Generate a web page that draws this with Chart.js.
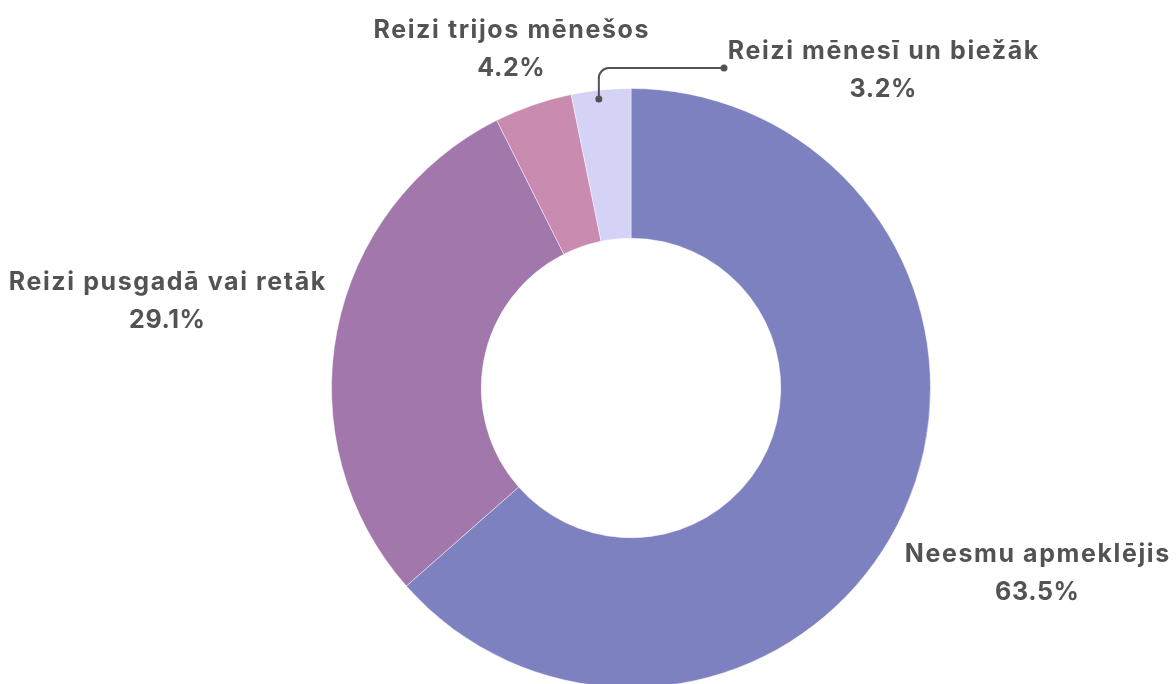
<!DOCTYPE html>
<html lang="lv">
<head>
<meta charset="utf-8">
<script src="https://cdn.jsdelivr.net/npm/chart.js@4.4.1/dist/chart.umd.min.js"></script>
<style>
    html, body { margin: 0; padding: 0; background: #ffffff; overflow: hidden; }
    #wrap { width: 1176px; height: 700px; }
</style>
</head>
<body>
<div id="wrap"><canvas id="visits-chart" width="1176" height="700"></canvas></div>
<script>
// --- Data ---
const categories = ['Neesmu apmeklējis', 'Reizi pusgadā vai retāk', 'Reizi trijos mēnešos', 'Reizi mēnesī un biežāk'];
const shares = [63.5, 29.1, 4.2, 3.2];
const sliceColors = ['#7e81bf', '#a277ab', '#c98bb0', '#d4d2f5'];

// label placement (text centre x, first baseline y)
const labelLayout = [
    { x: 1037, y: 562 },
    { x: 167, y: 290 },
    { x: 511, y: 38 },
    { x: 883, y: 59, leader: { bendY: 68, endX: 724 } }
];

const textColor = '#535353';
const labelFont = 'bold 25px Inter, "Open Sans", sans-serif';

const labelsPlugin = {
    id: 'sliceLabels',
    afterDatasetsDraw(chart) {
        const { ctx } = chart;
        const meta = chart.getDatasetMeta(0);
        ctx.save();
        ctx.fillStyle = textColor;
        ctx.strokeStyle = textColor;
        ctx.font = labelFont;
        ctx.textAlign = 'center';
        ctx.textBaseline = 'alphabetic';

        meta.data.forEach((arc, i) => {
            const pos = labelLayout[i];
            ctx.letterSpacing = '1.6px';
            ctx.fillText(categories[i], pos.x + 0.8, pos.y);
            ctx.letterSpacing = '0.6px';
            ctx.fillText(shares[i].toFixed(1) + '%', pos.x + 0.3, pos.y + 38);

            if (pos.leader) {
                // leader line from inside the slice up to the label
                const mid = (arc.startAngle + arc.endAngle) / 2;
                const r = arc.outerRadius - 9;
                const sx = arc.x + Math.cos(mid) * r - 3;
                const sy = arc.y + Math.sin(mid) * r;
                const by = pos.leader.bendY;
                const ex = pos.leader.endX;
                const rad = 10;
                ctx.lineWidth = 2;
                ctx.beginPath();
                ctx.moveTo(sx, sy);
                ctx.lineTo(sx, by + rad);
                ctx.arcTo(sx, by, sx + rad, by, rad);
                ctx.lineTo(ex, by);
                ctx.stroke();
                ctx.beginPath();
                ctx.arc(sx, sy, 3.5, 0, Math.PI * 2);
                ctx.arc(ex, by, 3.5, 0, Math.PI * 2);
                ctx.fill();
            }
        });
        ctx.restore();
    }
};

new Chart(document.getElementById('visits-chart'), {
    type: 'doughnut',
    data: {
        labels: categories,
        datasets: [{
            data: shares,
            backgroundColor: sliceColors,
            borderColor: 'rgba(255,255,255,0.45)',
            borderWidth: 1
        }]
    },
    options: {
        responsive: false,
        animation: false,
        devicePixelRatio: 1,
        cutout: '50%',
        layout: { padding: { top: 88, bottom: 12, left: 331, right: 245 } },
        plugins: {
            legend: { display: false },
            tooltip: { enabled: false }
        }
    },
    plugins: [labelsPlugin]
});
</script>
</body>
</html>
